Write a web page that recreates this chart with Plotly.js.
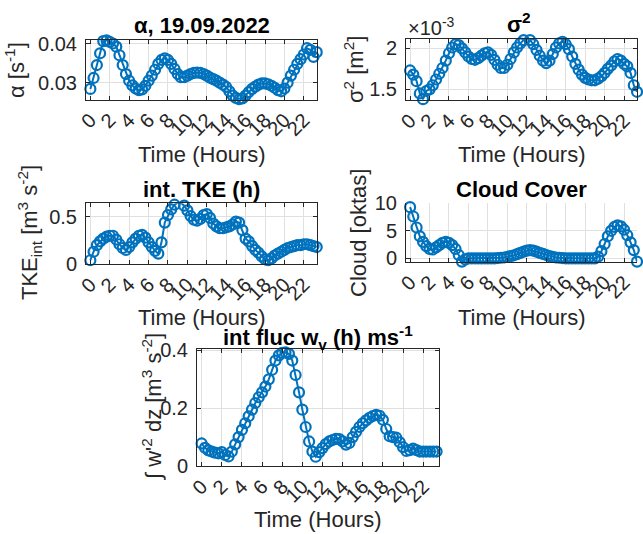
<!DOCTYPE html>
<html>
<head>
<meta charset="utf-8">
<script src="https://cdn.plot.ly/plotly-3.0.1.min.js"></script>
<style>html,body{margin:0;padding:0;background:#fff;}#chart{width:643px;height:534px;}</style>
</head>
<body>
<div id="chart"></div>
<script>
// ---- data ----
const hours = [0,0.33,0.67,1,1.33,1.67,2,2.33,2.67,3,3.33,3.67,4,4.33,4.67,5,5.33,5.67,6,6.33,6.67,7,7.33,7.67,8,8.33,8.67,9,9.33,9.67,10,10.33,10.67,11,11.33,11.67,12,12.33,12.67,13,13.33,13.67,14,14.33,14.67,15,15.33,15.67,16,16.33,16.67,17,17.33,17.67,18,18.33,18.67,19,19.33,19.67,20,20.33,20.67,21,21.33,21.67,22,22.33,22.67,23,23.33];

const alpha = [0.0284,0.0312,0.0345,0.0375,0.0406,0.0408,0.0404,0.0400,0.0392,0.0370,
 0.0345,0.0322,0.0305,0.0293,0.0285,0.0281,0.0283,0.0292,0.0305,0.0318,
 0.0333,0.0348,0.0358,0.0362,0.0358,0.0348,0.0335,0.0322,0.0314,0.0314,
 0.0318,0.0322,0.0325,0.0326,0.0325,0.0322,0.0318,0.0313,0.0309,0.0305,
 0.0300,0.0295,0.0289,0.0278,0.0267,0.0261,0.0258,0.0260,0.0267,0.0276,
 0.0284,0.0290,0.0295,0.0298,0.0298,0.0296,0.0292,0.0287,0.0281,0.0278,
 0.0285,0.0300,0.0318,0.0333,0.0348,0.0360,0.0372,0.0388,0.0384,0.0366,
 0.0378];

// sigma^2 in units of 1e-3 m^2
const sigma2_e3 = [1.73,1.68,1.60,1.45,1.38,1.48,1.50,1.55,1.62,1.69,
 1.76,1.85,1.94,2.01,2.05,2.04,2.00,1.95,1.90,1.87,
 1.86,1.88,1.91,1.94,1.95,1.92,1.86,1.80,1.76,1.76,
 1.80,1.87,1.95,2.01,2.06,2.10,2.12,2.10,2.05,1.98,
 1.91,1.85,1.82,1.85,1.93,2.01,2.06,2.08,2.05,1.99,
 1.90,1.81,1.74,1.68,1.64,1.62,1.61,1.61,1.63,1.66,
 1.70,1.75,1.79,1.84,1.87,1.85,1.81,1.78,1.70,1.55,
 1.47];

const tkeInt = [0.04,0.13,0.20,0.24,0.27,0.29,0.30,0.30,0.26,0.21,
 0.17,0.15,0.18,0.23,0.27,0.30,0.31,0.28,0.23,0.18,
 0.14,0.11,0.23,0.44,0.52,0.58,0.63,0.65,0.65,0.62,
 0.57,0.51,0.47,0.46,0.48,0.52,0.53,0.49,0.43,0.40,
 0.38,0.38,0.39,0.40,0.42,0.45,0.44,0.36,0.27,0.24,
 0.19,0.15,0.12,0.08,0.05,0.04,0.06,0.09,0.11,0.13,
 0.15,0.17,0.18,0.19,0.20,0.20,0.21,0.21,0.20,0.19,
 0.18];

const cloud = [9.3,7.6,5.6,4.0,3.0,2.2,1.7,1.6,2.0,2.4,
 2.8,3.0,2.8,2.4,1.7,0.6,-0.6,-0.2,0.0,0.0,
 0.0,0.0,0.0,0.0,0.0,0.0,0.0,0.05,0.1,0.15,
 0.25,0.4,0.55,0.75,1.0,1.2,1.4,1.5,1.4,1.2,
 1.0,0.8,0.6,0.4,0.25,0.15,0.1,0.05,0.0,0.0,
 0.0,0.0,0.0,0.0,0.0,0.0,0.0,0.0,0.3,1.3,
 2.6,4.0,5.0,5.7,6.0,5.8,5.2,4.2,2.9,1.5,
 -0.6];

const flucW = [0.078,0.063,0.054,0.050,0.046,0.044,0.048,0.038,0.033,0.050,
 0.075,0.100,0.125,0.148,0.172,0.195,0.218,0.238,0.255,0.275,
 0.300,0.333,0.365,0.383,0.392,0.393,0.388,0.365,0.315,0.255,
 0.195,0.135,0.085,0.050,0.032,0.048,0.062,0.076,0.085,0.090,
 0.094,0.093,0.085,0.074,0.080,0.100,0.118,0.135,0.148,0.158,
 0.167,0.173,0.177,0.174,0.160,0.128,0.103,0.100,0.098,0.082,
 0.065,0.052,0.055,0.060,0.055,0.050,0.050,0.050,0.050,0.050,
 0.050];

const xTickVals = [0,2,4,6,8,10,12,14,16,18,20,22];
const xTickText = ['0','2','4','6','8','10','12','14','16','18','20','22'];

// ---- styling / layout ----
const W = 643, H = 534;
const px = v => v / W;
const py = v => 1 - v / H;
const BLUE = '#0072BD';
const FONT = 'Liberation Sans, Arial, Helvetica, sans-serif';
const TXT = '#262626';

function trace(y, xa, ya) {
  return {
    x: hours, y: y, xaxis: xa, yaxis: ya, type: 'scatter', mode: 'lines+markers',
    line: {color: BLUE, width: 2},
    marker: {symbol: 'circle-open', size: 10, color: BLUE, line: {width: 2.2, color: BLUE}},
    cliponaxis: false, hoverinfo: 'skip'
  };
}

function xAxis(domain, range, anchor, box) {
  return {
    domain: domain, range: range, anchor: anchor,
    tickmode: 'array', tickvals: xTickVals, ticktext: xTickText, tickangle: -45,
    tickfont: {family: FONT, size: 20, color: TXT},
    ticks: 'inside', ticklen: 4, tickcolor: TXT,
    showgrid: true, gridcolor: '#e0e0e0', gridwidth: 1, zeroline: false,
    showline: true, linecolor: TXT, linewidth: 1, mirror: box ? 'ticks' : false,
    fixedrange: true
  };
}
function yAxis(domain, range, anchor, dtick, box) {
  return {
    domain: domain, range: range, anchor: anchor, dtick: dtick, tick0: 0,
    tickfont: {family: FONT, size: 20, color: TXT},
    ticks: 'inside', ticklen: 4, tickcolor: TXT, ticklabelstandoff: 4,
    showgrid: true, gridcolor: '#e0e0e0', gridwidth: 1, zeroline: false,
    showline: true, linecolor: TXT, linewidth: 1, mirror: box ? 'ticks' : false,
    fixedrange: true
  };
}

const data = [
  trace(alpha, 'x', 'y'),
  trace(sigma2_e3, 'x2', 'y2'),
  trace(tkeInt, 'x3', 'y3'),
  trace(cloud, 'x4', 'y4'),
  trace(flucW, 'x5', 'y5')
];

function ann(text, x, y, opts) {
  return Object.assign({
    text: text, x: px(x), y: py(y), xref: 'paper', yref: 'paper',
    showarrow: false, xanchor: 'center', yanchor: 'middle',
    font: {family: FONT, size: 22, color: TXT}
  }, opts || {});
}
const titleFont = {family: FONT, size: 22, color: '#000'};

const annotations = [
  // subplot titles
  ann('<b>α, 19.09.2022</b>', 201.5, 25.5, {font: titleFont}),
  ann('<b>σ<sup>2</sup></b>', 519, 23, {font: titleFont}),
  ann('×10<sup>-3</sup>', 406, 26, {xanchor: 'left', font: {family: FONT, size: 20, color: TXT}}),
  ann('<b>int. TKE (h)</b>', 201.5, 189, {font: titleFont}),
  ann('<b>Cloud Cover</b>', 521.5, 189, {font: titleFont}),
  ann('<b>int fluc w<sub>v</sub> (h) ms<sup>-1</sup></b>', 318, 337, {font: titleFont}),
  // x axis titles
  ann('Time (Hours)', 201.5, 154),
  ann('Time (Hours)', 521.5, 154),
  ann('Time (Hours)', 201.5, 317),
  ann('Time (Hours)', 521.5, 317),
  ann('Time (Hours)', 318, 519),
  // y axis titles
  ann('α [s<sup>-1</sup>]', 15, 70, {textangle: -90}),
  ann('σ<sup>2</sup> [m<sup>2</sup>]', 354, 70, {textangle: -90}),
  ann('TKE<sub>int</sub> [m<sup>3</sup> s<sup>-2</sup>]', 29, 233, {textangle: -90}),
  ann('Cloud [oktas]', 358, 233, {textangle: -90}),
  ann("∫ w'<sup>2</sup> dz [m<sup>3</sup> s<sup>-2</sup>]", 152, 407, {textangle: -90})
];

const layout = {
  width: W, height: H,
  margin: {l: 0, r: 0, t: 0, b: 0, pad: 0},
  paper_bgcolor: '#fff', plot_bgcolor: '#fff',
  showlegend: false,
  font: {family: FONT, color: TXT},
  xaxis:  xAxis([px(86), px(317)], [-0.45, 23.36], 'y', true),
  yaxis:  yAxis([py(99.5), py(40)], [0.0257, 0.0409], 'x', 0.01, true),
  xaxis2: xAxis([px(406), px(637.3)], [-0.42, 23.36], 'y2', true),
  yaxis2: yAxis([py(100), py(39.3)], [1.37, 2.11], 'x2', 0.5, true),
  xaxis3: xAxis([px(86), px(317)], [-0.45, 23.36], 'y3', true),
  yaxis3: yAxis([py(264), py(203.3)], [0, 0.645], 'x3', 0.5, true),
  xaxis4: xAxis([px(406), px(637.3)], [-0.42, 23.36], 'y4', false),
  yaxis4: yAxis([py(261.9), py(203.3)], [-0.65, 10], 'x4', 5, false),
  xaxis5: xAxis([px(197), px(439.3)], [-0.46, 23.6], 'y5', true),
  yaxis5: yAxis([py(466), py(349)], [0, 0.405], 'x5', 0.2, true),
  annotations: annotations
};

Plotly.newPlot('chart', data, layout, {staticPlot: true, displayModeBar: false});
</script>
</body>
</html>
